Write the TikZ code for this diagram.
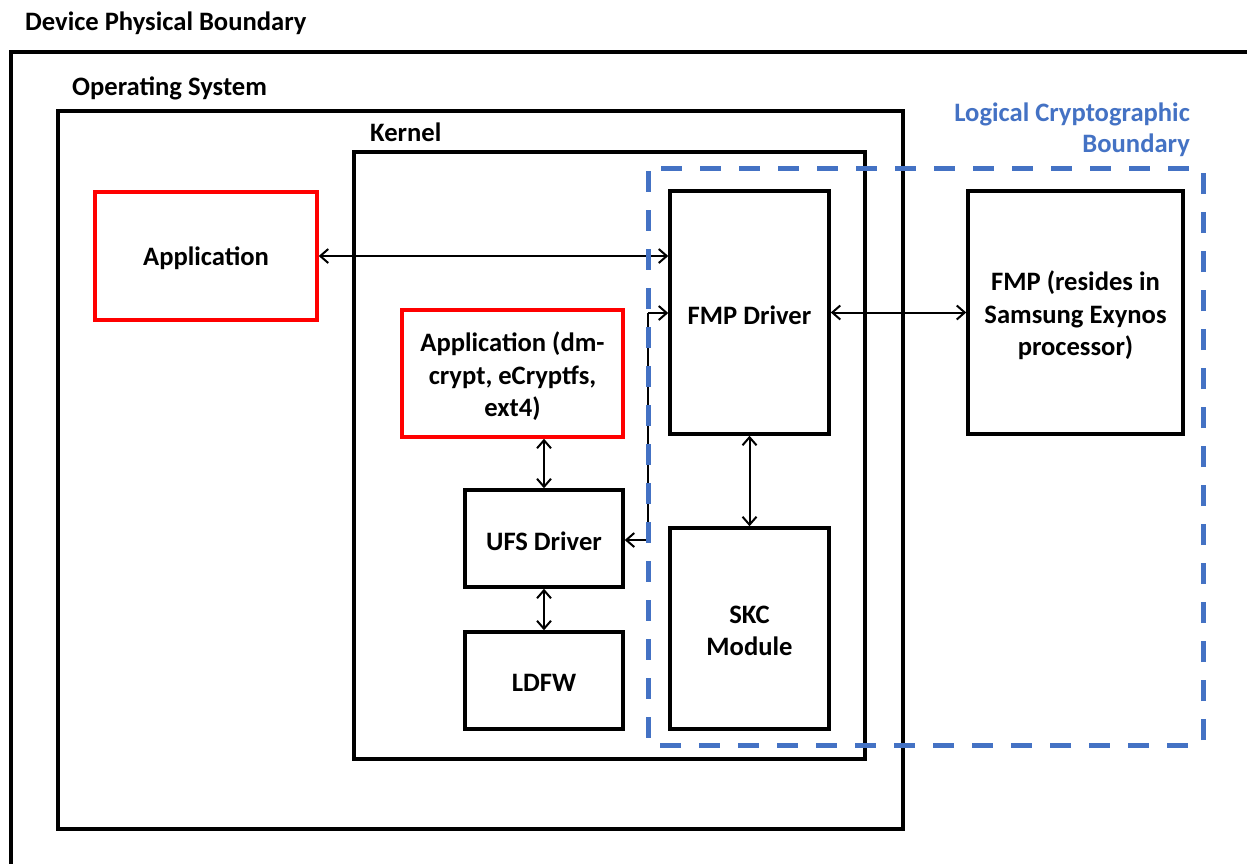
\documentclass[tikz,border=0pt]{standalone}
\usepackage{fontspec}
\setmainfont{Carlito}
\usetikzlibrary{arrows.meta}
\definecolor{lcb}{HTML}{4472C4}
\definecolor{appred}{HTML}{FF0000}
\tikzset{
  box/.style={draw=black, line width=3.5pt, inner sep=0pt},
  redbox/.style={box, draw=appred},
  txt/.style={align=center, inner sep=0pt, font=\fontsize{26.6}{32.5}\selectfont\bfseries},
  frame/.style={draw=black, line width=3.5pt},
  lbl/.style={font=\fontsize{26.6}{31}\selectfont\bfseries, inner sep=0pt},
  conn/.style={line width=2pt, {Straight Barb[length=8pt,width=14pt,line width=2pt]}-{Straight Barb[length=8pt,width=14pt,line width=2pt]}},
  oneway/.style={line width=2pt, -{Straight Barb[length=8pt,width=14pt,line width=2pt]}},
  dashbound/.style={draw=lcb, line width=5pt, dash pattern=on 21pt off 18pt}
}
\begin{document}
\begin{tikzpicture}[x=1pt,y=-1pt]
\useasboundingbox (0,0) rectangle (1247,863);
\clip (0,0) rectangle (1247,863);
\fill[white] (0,0) rectangle (1247,863);
% containers
\draw[frame] (11,52) rectangle (1320,920);
\node[lbl, anchor=west] (devlbl) at (25,23) {Device Physical Boundary};
\draw[frame] (58,111) rectangle (903,829);
\node[lbl, anchor=west] (oslbl) at (72,88) {Operating System};
\draw[frame] (354,152) rectangle (865,759);
\node[lbl, anchor=west] (kerlbl) at (370,132) {Kernel};
% boxes
\node[redbox, minimum width=222pt, minimum height=128pt] (app) at (206,256) {};
\node[redbox, minimum width=221pt, minimum height=127pt] (dm) at (512.5,373.5) {};
\node[box, minimum width=158pt, minimum height=97pt] (ufs) at (544,538.5) {};
\node[box, minimum width=158pt, minimum height=97pt] (ldfw) at (544,680.5) {};
\node[box, minimum width=159pt, minimum height=243pt] (fmpd) at (749.5,312.5) {};
\node[box, minimum width=159pt, minimum height=201pt] (skc) at (749.5,628.5) {};
\node[box, minimum width=215pt, minimum height=243pt] (fmp) at (1075.5,312.5) {};
% box texts
\node[txt] (apptxt) at ([yshift=-2.5pt]app.center) {Application};
\node[txt] (dmtxt) at ([yshift=-3pt]dm.center) {Application (dm-\\crypt, eCryptfs,\\ext4)};
\node[txt] (ufstxt) at ([yshift=-2.5pt]ufs.center) {UFS Driver};
\node[txt] (ldfwtxt) at ([yshift=-2.5pt]ldfw.center) {LDFW};
\node[txt] (fmpdtxt) at ([yshift=-2.5pt]fmpd.center) {FMP Driver};
\node[txt] (skctxt) at ([yshift=-2.5pt]skc.center) {SKC\\Module};
\node[txt] (fmptxt) at ([yshift=-3pt]fmp.center) {FMP (resides in\\Samsung Exynos\\processor)};
% connectors
\draw[conn] (app.east) -- (app.east -| fmpd.west);
\draw[conn] (fmpd.east) -- (fmp.west);
\draw[conn] (fmpd.south) -- (skc.north);
\draw[conn] (ufs.north) -- (ufs.north |- dm.south);
\draw[conn] (ufs.south) -- (ldfw.north);
\coordinate (b1) at (648,313);
\coordinate (b2) at (648,540);
\draw[line width=2pt] (b2) -- (b1);
\draw[oneway] (b1) -- (b1 -| fmpd.west);
\draw[oneway] (b2) -- (b2 -| ufs.east);
% logical boundary
\draw[dashbound, rounded corners=3pt] (648,168) rectangle (1203,745);
\node[lbl, text=lcb, align=right, anchor=north east] (lcblbl) at (1190,102.5) {Logical Cryptographic\\Boundary};
\end{tikzpicture}
\end{document}
